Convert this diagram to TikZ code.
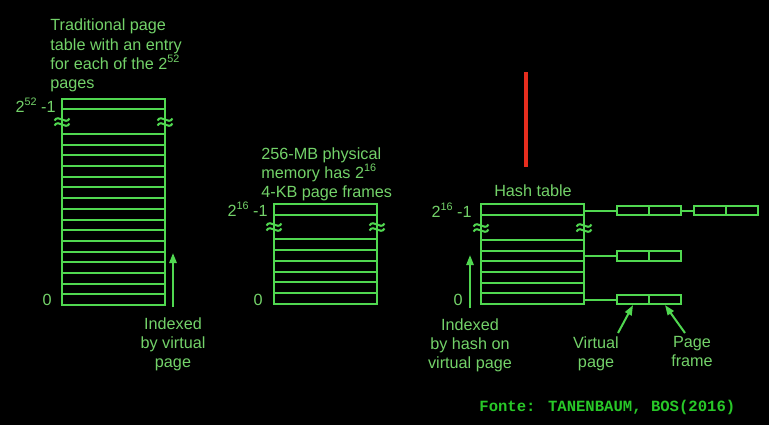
\documentclass[tikz,border=0pt]{standalone}
\usepackage{fontspec}
\setmainfont{Liberation Sans}
\newfontfamily\srcfont{Liberation Mono}
\usepackage{tikz}
\usetikzlibrary{arrows.meta}

\definecolor{tblgreen}{RGB}{80,215,80}
\definecolor{txtgreen}{RGB}{115,210,105}
\definecolor{srcgreen}{RGB}{40,200,40}
\definecolor{penred}{RGB}{230,45,30}

\newcommand{\expo}[1]{\raisebox{0.42em}{\fontsize{5.4}{5.4}\selectfont #1}}

\tikzset{
	tbl/.style={draw=tblgreen, line width=1pt},
	lbl/.style={text=txtgreen, inner sep=0pt, font=\fontsize{8.1}{9.7}\selectfont},
	arr/.style={draw=tblgreen, line width=1pt, -{Triangle[length=5pt,width=3.6pt]}},
	slot/.style={draw=tblgreen, line width=1pt, minimum width=16pt, minimum height=4.6pt, inner sep=0pt},
	brkmark/.pic={
		\draw[tbl] (-7.5,-1.5) .. controls (-3.5,-8.5) and (3.5,3.5) .. (7.5,-3.5);
		\draw[tbl] (-7.5,3.5) .. controls (-3.5,-3.5) and (3.5,8.5) .. (7.5,1.5);
	}
}

\begin{document}
\begin{tikzpicture}[x=0.5pt,y=-0.5pt]
		\fill[black] (0,0) rectangle (769,425);
		\useasboundingbox (0,0) rectangle (769,425);

		% traditional page table
		\node[lbl, anchor=north west, align=left] (trad) at (50,18.5) {Traditional page\\table with an entry\\for each of the 2\expo{52}\\pages};
		\node[lbl, anchor=base east] (tradtop) at (56,112) {2\expo{52} -1};
		\node[lbl, anchor=base east] (tradzero) at (52,305) {0};

		\draw[tbl] (62,99) rectangle (165,305);
		\draw[tbl] (62,109) -- (165,109);
		\foreach \k in {0,...,15}
			\draw[tbl] (62,{134+\k*10.69}) -- (165,{134+\k*10.69});
		\pic at (62,122) {brkmark};
		\pic at (165,122) {brkmark};

		\node[lbl, anchor=north, align=center] (tradidx) at (173,317) {Indexed\\by virtual\\page};
		\coordinate (tradtip) at (173,253);
		\draw[arr, shorten <=5pt] (tradidx.north) -- (tradtip);

		% physical memory
		\node[lbl, anchor=north west, align=left] (phys) at (261,147) {256-MB physical\\memory has 2\expo{16}\\4-KB page frames};
		\node[lbl, anchor=base east] (phystop) at (268,216) {2\expo{16} -1};
		\node[lbl, anchor=base east] (physzero) at (263,305) {0};

		\draw[tbl] (274,204) rectangle (377,304);
		\draw[tbl] (274,215) -- (377,215);
		\foreach \k in {0,...,5}
			\draw[tbl] (274,{239+\k*10.83}) -- (377,{239+\k*10.83});
		\pic at (274,227) {brkmark};
		\pic at (377,227) {brkmark};

		% hash table
		\node[lbl] (hash) at (533,191) {Hash table};
		\node[lbl, anchor=base east] (hashtop) at (472,217) {2\expo{16} -1};
		\node[lbl, anchor=base east] (hashzero) at (463,305) {0};

		\draw[tbl] (481,204) rectangle (584,304);
		\draw[tbl] (481,215) -- (584,215);
		\foreach \k in {0,...,5}
			\draw[tbl] (481,{240+\k*10.67}) -- (584,{240+\k*10.67});
		\pic at (481,228) {brkmark};
		\pic at (584,228) {brkmark};

		\node[lbl, anchor=north, align=center] (hashidx) at (470,318) {Indexed\\by hash on\\virtual page};
		\coordinate (hashtip) at (470,255);
		\draw[arr, shorten <=5pt] (hashidx.north) -- (hashtip);

		% chains
		\coordinate (h1) at (584,210.5);
		\coordinate (h2) at (584,256);
		\coordinate (h3) at (584,299.5);

		\node[slot] (vp1) at (633,210.5) {};
		\node[slot] (pf1) at (665,210.5) {};
		\node[slot] (vp2) at (710,210.5) {};
		\node[slot] (pf2) at (742,210.5) {};
		\node[slot] (vp3) at (633,256) {};
		\node[slot] (pf3) at (665,256) {};
		\node[slot] (vp4) at (633,299.5) {};
		\node[slot] (pf4) at (665,299.5) {};

		\draw[tbl] (h1) -- (vp1.west);
		\draw[tbl] (pf1.east) -- (vp2.west);
		\draw[tbl] (h2) -- (vp3.west);
		\draw[tbl] (h3) -- (vp4.west);

		\node[lbl, anchor=north, align=center] (vplbl) at (596,336) {Virtual\\page};
		\node[lbl, anchor=north, align=center] (pflbl) at (692,336) {Page\\frame};
		\coordinate (vptail) at (618,333);
		\coordinate (pftail) at (685,333);
		\draw[arr] (vptail) -- (vp4.south);
		\draw[arr] (pftail) -- (pf4.south);

		% pen mark
		\draw[penred, line width=1.6pt] (526,72) -- (526,167);

		% source
		\node[text=srcgreen, inner sep=0pt, anchor=west, font=\srcfont\bfseries\fontsize{7.8}{9}\selectfont] (src) at (479,407) {Fonte: TANENBAUM, BOS(2016)};
	\end{tikzpicture}
\end{document}
